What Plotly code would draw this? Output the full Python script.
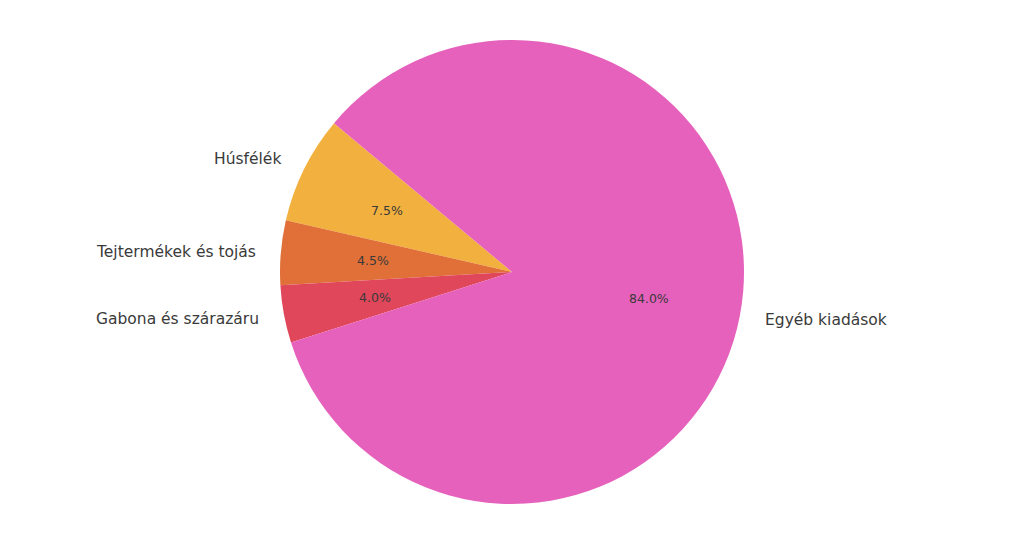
import numpy as np
import plotly.graph_objects as go

categories = ["Húsfélék", "Tejtermékek és tojás", "Gabona és szárazáru", "Egyéb kiadások"]
shares = [7.5, 4.5, 4.0, 84.0]
colors = ["#F2B13E", "#E07038", "#E0475A", "#E661BC"]

W, H = 1024, 546
OFF = 8            # page body margin
R = 232            # pie radius in px
CX, CY = 512 - OFF, 272 - OFF  # pie centre in figure px
START = 140.3      # start angle (deg, counter-clockwise from +x)

cy_paper = 1 - CY / H
half = R / H
cx_paper = CX / W
halfx = R / W

fig = go.Figure(go.Pie(
    labels=categories,
    values=shares,
    sort=False,
    direction="counterclockwise",
    rotation=-77.1,
    marker=dict(colors=colors, line=dict(width=0)),
    textinfo="none",
    hoverinfo="label+percent",
    showlegend=False,
    domain=dict(x=[cx_paper - halfx, cx_paper + halfx], y=[cy_paper - half, cy_paper + half]),
))

vals = np.array(shares, dtype=float)
fr = vals / vals.sum()
ends = START + np.cumsum(fr) * 360
starts = ends - fr * 360
mids = np.deg2rad((starts + ends) / 2)

annotations = []
for lab, f, m in zip(categories, fr, mids):
    px = CX + 0.6 * R * np.cos(m)
    py = CY - 0.6 * R * np.sin(m)
    annotations.append(dict(
        x=px / W, y=1 - py / H, xref="paper", yref="paper",
        text=f"{f*100:.1f}%", showarrow=False,
        xanchor="center", yanchor="middle",
        font=dict(family="DejaVu Sans", size=12.5, color="#3a3a3a"),
    ))
    lx = CX + 1.1 * R * np.cos(m)
    ly = CY - 1.1 * R * np.sin(m)
    annotations.append(dict(
        x=lx / W, y=1 - ly / H, xref="paper", yref="paper",
        text=lab, showarrow=False,
        xanchor="left" if np.cos(m) >= 0 else "right", yanchor="middle",
        font=dict(family="DejaVu Sans", size=15.5, color="#3a3a3a"),
    ))

fig.update_layout(
    width=W, height=H,
    margin=dict(l=0, r=0, t=0, b=0),
    paper_bgcolor="white",
    plot_bgcolor="white",
    annotations=annotations,
)

fig.write_html("out.html")
